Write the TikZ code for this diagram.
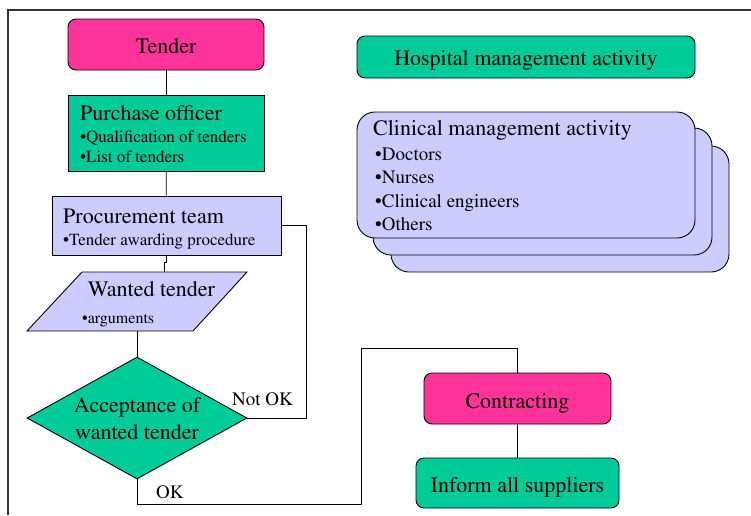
\documentclass[tikz,border=0pt]{standalone}
\usepackage[T1]{fontenc}
\renewcommand{\rmdefault}{ptm}
\usetikzlibrary{shapes.geometric}
\definecolor{mag}{HTML}{FF3399}
\definecolor{grn}{HTML}{00CC99}
\definecolor{lav}{HTML}{CCCCFF}
\definecolor{frame}{HTML}{333333}
\newcommand{\bul}{\textbullet}
\begin{document}
\begin{tikzpicture}[x=1pt,y=-1pt,
  box/.style={draw=black, line width=0.9pt, inner sep=0pt},
  rbox/.style={box, rounded corners=8pt},
  big/.style={font=\fontsize{22}{26}\selectfont, inner sep=0pt},
  small/.style={font=\fontsize{17}{20}\selectfont, inner sep=0pt, anchor=base west},
  mid/.style={font=\fontsize{19}{22}\selectfont, inner sep=0pt, anchor=base west},
  link/.style={draw=black, line width=0.8pt}]
\useasboundingbox (0,0) rectangle (751,515);
\draw[line width=1.6pt, frame] (8,515) -- (8,10) -- (751,10);

% left column
\node[rbox, fill=mag, minimum width=196, minimum height=51] (tender) at (166,44.5) {};
\node[big, anchor=base] (tendert) at (166,53.5) {Tender};
\node[box, fill=grn, minimum width=196, minimum height=76] (purch) at (166,133) {};
\node[big, anchor=base west] (purcht) at (80,120.7) {Purchase officer};
\node[small] (purch1) at (80,142.7) {\bul Qualification of tenders};
\node[small] (purch2) at (80,162) {\bul List of tenders};
\node[box, fill=lav, minimum width=229, minimum height=59] (proc) at (166.5,225.5) {};
\node[big, anchor=base west] (proct) at (63,223) {Procurement team};
\node[small] (proc1) at (63,245.7) {\bul Tender awarding procedure};

\draw[box, fill=lav] (82,272) coordinate (wtTL) -- (247,272) -- (193,331) -- (27,331) -- cycle;
\coordinate (wtTop) at (164,272);
\coordinate (wtBot) at (137,331);
\node[big, anchor=base] (wtt) at (151.5,296) {Wanted tender};
\node[small, font=\fontsize{16}{19}\selectfont] (wt1) at (82,323) {\bul arguments};

\node[box, diamond, fill=grn, minimum width=220, minimum height=122] (acc) at (137,418) {};
\node[big, anchor=base] (acc1) at (137,412.7) {Acceptance of};
\node[big, anchor=base] (acc2) at (137,439) {wanted tender};

\node[mid] (notok) at (232,405.7) {Not OK};
\node[mid] (ok) at (156,498) {OK};

% right side
\node[rbox, fill=grn, minimum width=338, minimum height=42] (hosp) at (526,57) {};
\node[big, anchor=base] (hospt) at (526,65) {Hospital management activity};

\node[box, rounded corners=18pt, fill=lav, minimum width=338, minimum height=126] (clin3) at (560,209) {};
\node[box, rounded corners=18pt, fill=lav, minimum width=339, minimum height=127] (clin2) at (542.5,191.5) {};
\node[box, rounded corners=18pt, fill=lav, minimum width=338, minimum height=126] (clin1) at (526,175) {};
\node[big, anchor=base west] (clint) at (373,135.7) {Clinical management activity};
\node[mid] (clin1a) at (375,160.7) {\bul Doctors};
\node[mid] (clin1b) at (375,183.3) {\bul Nurses};
\node[mid] (clin1c) at (375,207.3) {\bul Clinical engineers};
\node[mid] (clin1d) at (375,230) {\bul Others};

\node[rbox, fill=mag, minimum width=187, minimum height=51] (contr) at (517.5,398.5) {};
\node[big, anchor=base] (contrt) at (517.5,408.3) {Contracting};
\node[rbox, fill=grn, minimum width=203, minimum height=50] (inform) at (517.5,483) {};
\node[big, anchor=base] (informt) at (517.5,492.3) {Inform all suppliers};

% connectors
\draw[link] (tender) -- (purch);
\draw[link] (purch) -- (proc);
\draw[link] (proc.south) -- ++(0,7) -- ++(-2.5,0) -- (wtTop);
\draw[link] (wtBot) -- (acc.north);
\draw[link] (acc.east) -- (306,418) |- (proc.east);
\draw[link] (acc.south) -- (137,504) -- (361,504) -- (361,348) -| (contr.north);
\draw[link] (contr) -- (inform);
\end{tikzpicture}
\end{document}
